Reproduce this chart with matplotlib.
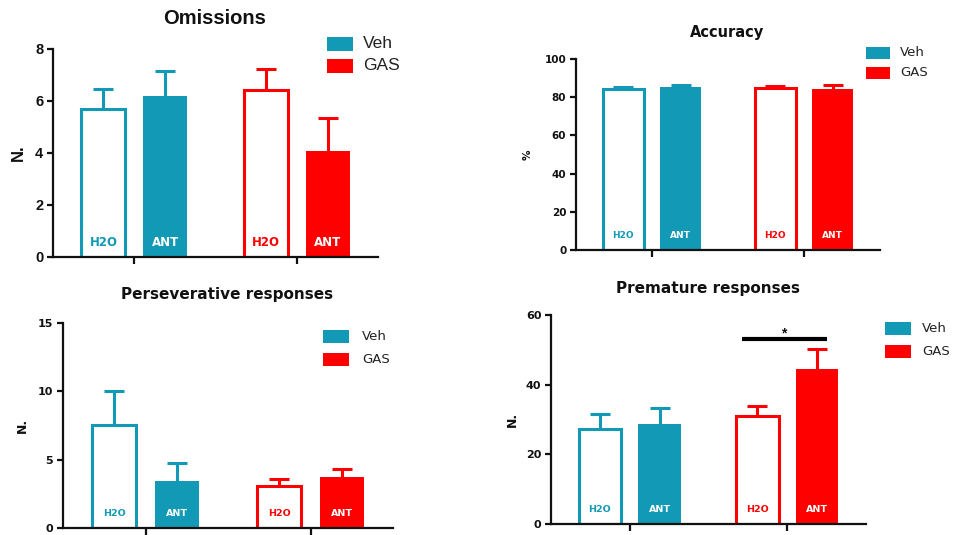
import matplotlib
matplotlib.use("Agg")
import matplotlib.pyplot as plt
from matplotlib.patches import Rectangle
import numpy as np

plt.rcParams["font.family"] = ["Liberation Sans", "DejaVu Sans"]

W, H = 955, 535
TEAL = "#1199b5"
RED = "#ff0000"
INK = "#111111"
WIDE = ["DejaVu Sans"]
ARIAL = ["Liberation Sans", "DejaVu Sans"]

# Experimental groups and treatments
groups = ["Veh", "GAS"]
treatments = ["H2O", "ANT"]
group_colors = [TEAL, RED]

# Mean values per group (rows: Veh, GAS; columns: H2O, ANT) and SEM
omissions_mean = [[5.70, 6.20], [6.41, 4.06]]
omissions_sem = [[0.76, 0.95], [0.82, 1.29]]

accuracy_mean = [[84.3, 85.1], [85.0, 84.3]]
accuracy_sem = [[1.0, 1.3], [1.0, 2.2]]

persev_mean = [[7.56, 3.41], [3.05, 3.73]]
persev_sem = [[2.44, 1.35], [0.54, 0.59]]

premature_mean = [[27.3, 28.8], [31.1, 44.4]]
premature_sem = [[4.3, 4.4], [2.8, 5.9]]

fig = plt.figure(figsize=(W / 100, H / 100), dpi=100)


def px_axes(left, top, right, bottom):
    return fig.add_axes([left / W, 1 - bottom / H, (right - left) / W, (bottom - top) / H])


def draw_panel(rect, means, sems, ymax, yticks, title, ylabel, title_xy, ylabel_x,
               legend_rect, title_size, tick_size, legend_size, inner_size,
               ylabel_size, fam):
    ax = px_axes(*rect)
    offset, width = 0.19, 0.27
    xs = []
    for g, color in enumerate(group_colors):
        for t, treat in enumerate(treatments):
            x = g + (-offset if t == 0 else offset)
            xs.append(x)
            m, s = means[g][t], sems[g][t]
            filled = t == 1
            ax.bar(x, m, width=width, color=color if filled else "white",
                   edgecolor=color, linewidth=0 if filled else 2.2, zorder=2)
            _, caps, _ = ax.errorbar(x, m, yerr=[[0], [s]], color=color, elinewidth=2.2,
                                     capsize=7.5, capthick=2.2, zorder=1)
            # only the upper whisker carries a cap
            for cap in caps:
                if np.allclose(cap.get_ydata(), m):
                    cap.set_visible(False)
            ax.annotate(treat, xy=(x, 0), xytext=(0, 10.5), textcoords="offset points",
                        ha="center", va="center", fontsize=inner_size, fontweight="bold",
                        family=WIDE, color="white" if filled else color, zorder=3)
    ax.set_xlim(-0.5, 1.5)
    ax.set_ylim(0, ymax)
    ax.set_yticks(yticks)
    ax.set_xticks([0, 1])
    ax.set_xticklabels([])
    for side in ("top", "right"):
        ax.spines[side].set_visible(False)
    for side in ("left", "bottom"):
        ax.spines[side].set_linewidth(1.6)
        ax.spines[side].set_color(INK)
    ax.tick_params(axis="y", length=4, width=1.6, color=INK, labelsize=tick_size, pad=3)
    ax.tick_params(axis="x", length=5, width=1.6, color=INK)
    for lab in ax.get_yticklabels():
        lab.set_fontweight("bold")
        lab.set_family(fam)
        lab.set_color(INK)
    ax.patch.set_alpha(0)

    fig.text(title_xy[0] / W, 1 - title_xy[1] / H, title, ha="center", va="center",
             fontsize=title_size, fontweight="bold", color=INK, family=fam)
    fig.text(ylabel_x / W, 1 - (rect[1] + rect[3]) / 2 / H, ylabel, ha="center",
             va="center", rotation=90, fontsize=ylabel_size, fontweight="bold", color=INK,
             family=fam)

    lx0, lx1, ly_tops, lh, tx = legend_rect
    for name, color, ly in zip(groups, group_colors, ly_tops):
        fig.add_artist(Rectangle((lx0 / W, 1 - (ly + lh) / H), (lx1 - lx0) / W, lh / H,
                                 transform=fig.transFigure, facecolor=color,
                                 edgecolor="none"))
        fig.text(tx / W, 1 - (ly + lh / 2) / H, name, ha="left", va="center",
                 fontsize=legend_size, color="#222222", family=fam)
    return ax, xs


# Omissions
draw_panel((53, 49, 378, 257), omissions_mean, omissions_sem, 8, [0, 2, 4, 6, 8],
           "Omissions", "N.", (215, 18), 18, (327, 353, (37, 59), 13.5, 363),
           title_size=14.5, tick_size=10.5, legend_size=12.5, inner_size=8.5,
           ylabel_size=12, fam=ARIAL)

# Accuracy
draw_panel((576, 59, 880, 250), accuracy_mean, accuracy_sem, 100, [0, 20, 40, 60, 80, 100],
           "Accuracy", "%", (727, 32), 528, (866, 890, (47, 67), 11.5, 900),
           title_size=10.5, tick_size=7.5, legend_size=9.5, inner_size=6.5,
           ylabel_size=7.5, fam=WIDE)

# Perseverative responses
draw_panel((63, 323, 393, 528), persev_mean, persev_sem, 15, [0, 5, 10, 15],
           "Perseverative responses", "N.", (227, 294), 22, (323, 349, (330, 353), 13, 362),
           title_size=11, tick_size=8, legend_size=9.5, inner_size=6.8,
           ylabel_size=9, fam=WIDE)

# Premature responses
ax4, xs4 = draw_panel((551, 315, 866, 524), premature_mean, premature_sem, 60, [0, 20, 40, 60],
                      "Premature responses", "N.", (708, 288), 512,
                      (885, 911, (322, 345), 13, 922),
                      title_size=11, tick_size=8, legend_size=9.5, inner_size=6.8,
                      ylabel_size=9, fam=WIDE)

# Significance bracket: GAS H2O vs GAS ANT
sig_y = 53.1
x_a, x_b = xs4[2] - 0.10, xs4[3] + 0.06
ax4.plot([x_a, x_b], [sig_y, sig_y], color="black", linewidth=3, solid_capstyle="butt",
         clip_on=False)
ax4.text((x_a + x_b) / 2, sig_y + 0.4, "*", ha="center", va="baseline", fontsize=10,
         fontweight="bold", color=INK, family=ARIAL)

fig.savefig("out.png", dpi=100, facecolor="white")
